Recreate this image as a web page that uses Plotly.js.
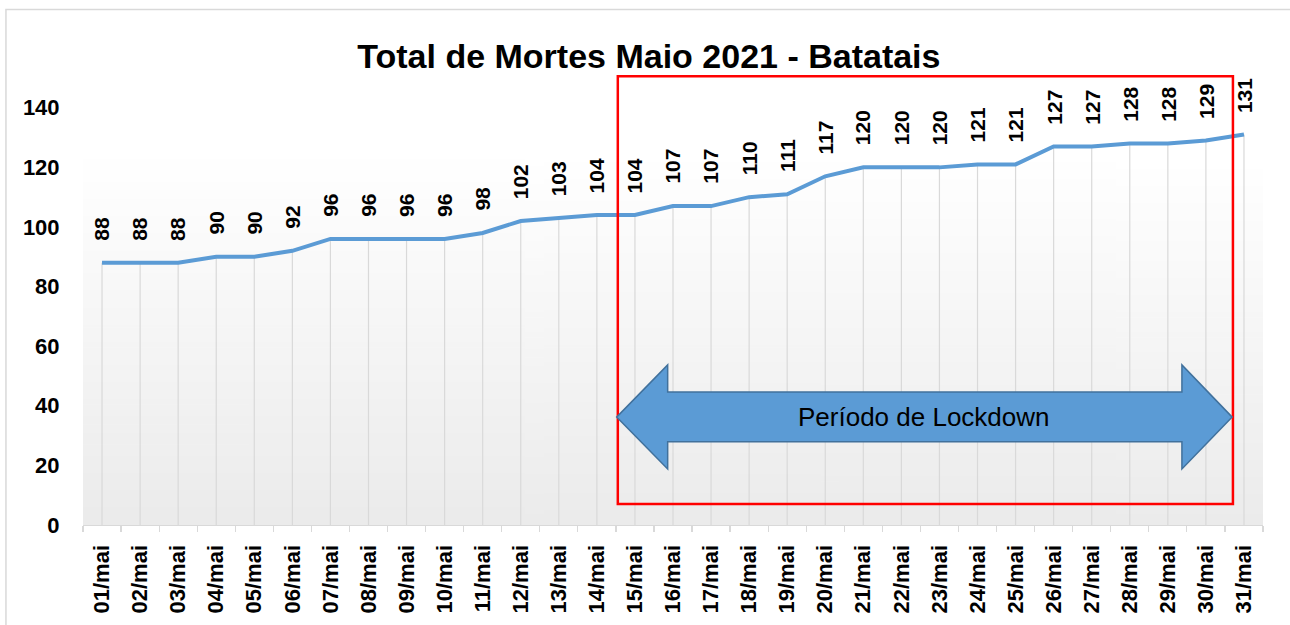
<!DOCTYPE html>
<html>
<head>
<meta charset="utf-8">
<script src="https://cdn.plot.ly/plotly-3.0.1.min.js"></script>
<style>html,body{margin:0;padding:0;background:#fff;}#chart{width:1290px;height:625px;}</style>
</head>
<body>
<div id="chart"></div>
<script>
// ---- data ----
const categories = ["01/mai","02/mai","03/mai","04/mai","05/mai","06/mai","07/mai","08/mai","09/mai","10/mai",
  "11/mai","12/mai","13/mai","14/mai","15/mai","16/mai","17/mai","18/mai","19/mai","20/mai",
  "21/mai","22/mai","23/mai","24/mai","25/mai","26/mai","27/mai","28/mai","29/mai","30/mai","31/mai"];
const deaths = [88,88,88,90,90,92,96,96,96,96,98,102,103,104,104,107,107,110,111,117,120,120,120,121,121,127,127,128,128,129,131];
const yTicks = [0,20,40,60,80,100,120,140];
const titleText = "Total de Mortes Maio 2021 - Batatais";
const lockdownText = "Período de Lockdown";

const idx = categories.map((c,i)=>i);
const zeros = deaths.map(()=>0);

// gradient background image
function gradientURL(){
  const c = document.createElement('canvas');
  c.width = 4; c.height = 256;
  const g = c.getContext('2d');
  const gr = g.createLinearGradient(0,0,0,256);
  gr.addColorStop(0,'#ffffff');
  gr.addColorStop(1,'#ebebeb');
  g.fillStyle = gr; g.fillRect(0,0,4,256);
  return c.toDataURL();
}

const FONT = '"Liberation Sans", Arial, sans-serif';

const dropTrace = {
  x: idx, y: deaths, type: 'scatter', mode: 'none', hoverinfo: 'skip', showlegend: false,
  error_y: {type:'data', symmetric:false, array: zeros, arrayminus: deaths, width:0, thickness:1.2, color:'#d9d9d9'}
};
const lineTrace = {
  x: idx, y: deaths, type: 'scatter', mode: 'lines', showlegend: false,
  line: {color:'#5b9bd5', width:4}
};

const labelAnns = deaths.map((v,i)=>({
  x: i, y: v, xref:'x', yref:'y', text: String(v), showarrow:false, textangle:-90,
  xanchor:'center', yanchor:'bottom', yshift: 20,
  font:{family:FONT, size:21, color:'#000', weight:'bold'}
}));

// annotation geometry (data units)
const arrowY = 36.2;
const arrow = {tipL:13.52, baseL:14.86, baseR:28.37, tipR:29.69, headTop:53.7, headBot:18.8, shaftTop:44.6, shaftBot:27.9};
const arrowPath = 'M '+arrow.tipL+','+arrowY+
  ' L '+arrow.baseL+','+arrow.headTop+
  ' L '+arrow.baseL+','+arrow.shaftTop+
  ' L '+arrow.baseR+','+arrow.shaftTop+
  ' L '+arrow.baseR+','+arrow.headTop+
  ' L '+arrow.tipR+','+arrowY+
  ' L '+arrow.baseR+','+arrow.headBot+
  ' L '+arrow.baseR+','+arrow.shaftBot+
  ' L '+arrow.baseL+','+arrow.shaftBot+
  ' L '+arrow.baseL+','+arrow.headBot+' Z';

const layout = {
  width:1290, height:625,
  margin:{l:83, r:27, t:72, b:100},
  paper_bgcolor:'#ffffff', plot_bgcolor:'rgba(0,0,0,0)',
  showlegend:false,
  title:{text:titleText, x:0.503, xanchor:'center', xref:'container', y:0.91, yanchor:'middle', yref:'container',
    font:{family:FONT, size:34, color:'#000', weight:'bold'}},
  xaxis:{
    type:'linear', range:[-0.5,30.5], fixedrange:true,
    tickmode:'array', tickvals: idx, ticktext: categories, tickangle:-90,
    ticks:'outside', ticklen:10, tickcolor:'rgba(0,0,0,0)',
    tickfont:{family:FONT, size:22, color:'#000', weight:'bold'},
    showgrid:false, zeroline:false, showline:true, linecolor:'#d9d9d9', linewidth:1.2,
    minor:{tickmode:'linear', tick0:-0.5, dtick:1, ticks:'outside', ticklen:6, tickcolor:'#d9d9d9', tickwidth:1.2, showgrid:false}
  },
  yaxis:{
    range:[0,152], fixedrange:true, tickmode:'array', tickvals:yTicks,
    ticks:'outside', ticklen:18, tickcolor:'rgba(0,0,0,0)',
    tickfont:{family:FONT, size:22, color:'#000', weight:'bold'},
    showgrid:false, zeroline:false, showline:false
  },
  images:[{source: gradientURL(), xref:'paper', yref:'paper', x:0, y:0.806, sizex:1, sizey:0.806,
    xanchor:'left', yanchor:'top', sizing:'stretch', layer:'below'}],
  shapes:[
    {type:'rect', xref:'paper', yref:'paper', x0:-0.0653, x1:1.05, y0:-0.3, y1:1.138,
      line:{color:'#d9d9d9', width:1.5}, fillcolor:'rgba(0,0,0,0)', layer:'above'},
    {type:'rect', xref:'x', yref:'y', x0:13.55, x1:29.71, y0:7.05, y1:150.6,
      line:{color:'#ff0000', width:2.5}, fillcolor:'rgba(0,0,0,0)'},
    {type:'path', xref:'x', yref:'y', path: arrowPath, fillcolor:'#5b9bd5', line:{color:'#41719c', width:1.5}}
  ],
  annotations: labelAnns.concat([
    {x:21.59, y:arrowY, xref:'x', yref:'y', text:lockdownText, showarrow:false,
      font:{family:FONT, size:26, color:'#000'}}
  ])
};

Plotly.newPlot('chart', [dropTrace, lineTrace], layout, {displayModeBar:false, staticPlot:true});
</script>
</body>
</html>
